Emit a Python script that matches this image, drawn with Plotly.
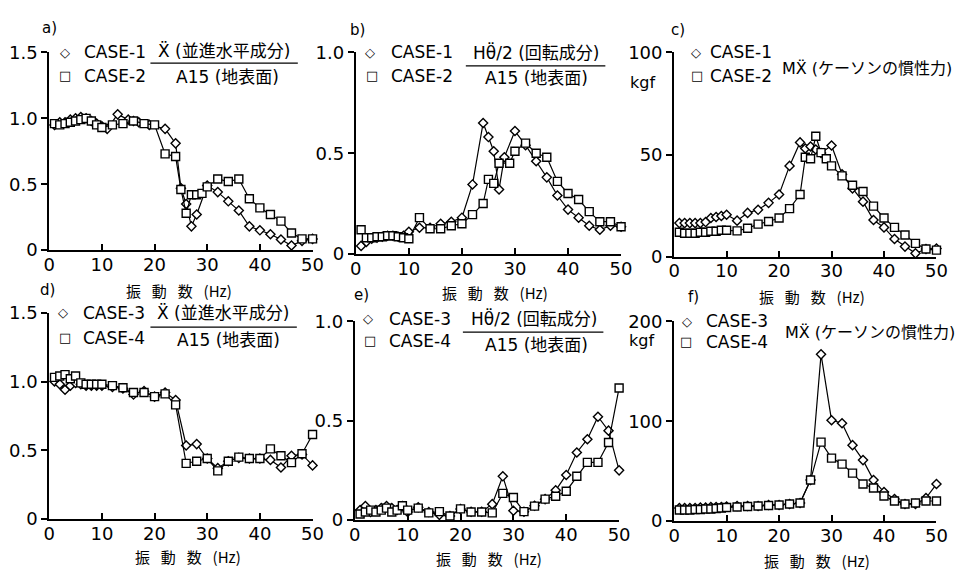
import plotly.graph_objects as go

# ---------------------------------------------------------------
# Frequency response of the caisson model (振動数 in Hz)
# ---------------------------------------------------------------

# a) translational horizontal acceleration / ground surface A15
freq_a_case1 = [1, 2, 3, 4, 5, 6, 7, 8, 9, 10, 11, 13, 15, 16, 17, 19, 22, 24, 25, 26, 27, 28,
                30, 32, 34, 36, 38, 40, 42, 44, 46, 48, 50]
ratio_a_case1 = [0.95, 0.97, 0.97, 0.99, 1.00, 1.01, 1.00, 0.98, 0.96, 0.94, 0.92, 1.03, 0.99, 0.98,
                 0.97, 0.95, 0.92, 0.81, 0.47, 0.35, 0.18, 0.27, 0.49, 0.44, 0.37, 0.30, 0.18, 0.15,
                 0.12, 0.08, 0.035, 0.07, 0.085]
freq_a_case2 = [1, 2, 3, 4, 5, 6, 7, 8, 9, 10, 12, 14, 16, 18, 20, 22, 24, 25, 26, 27, 28, 29,
                30, 32, 34, 36, 38, 40, 42, 44, 46, 48, 50]
ratio_a_case2 = [0.96, 0.95, 0.96, 0.97, 0.98, 0.99, 1.00, 0.98, 0.95, 0.93, 0.95, 0.96, 0.98, 0.96,
                 0.95, 0.73, 0.71, 0.46, 0.28, 0.42, 0.42, 0.43, 0.48, 0.54, 0.52, 0.54, 0.39, 0.32,
                 0.27, 0.22, 0.13, 0.085, 0.085]

# b) rotational component H*theta''/2 / A15
freq_b_case1 = [1, 2, 3, 4, 5, 6, 7, 8, 9, 10, 12, 14, 16, 18, 20, 22, 24, 25, 26, 27, 28, 30,
                32, 34, 36, 38, 40, 42, 44, 46, 48, 50]
ratio_b_case1 = [0.04, 0.06, 0.075, 0.08, 0.085, 0.09, 0.09, 0.085, 0.09, 0.11, 0.13, 0.13, 0.15,
                 0.16, 0.18, 0.345, 0.65, 0.58, 0.51, 0.32, 0.48, 0.61, 0.54, 0.46, 0.38, 0.29,
                 0.22, 0.18, 0.14, 0.12, 0.14, 0.135]
freq_b_case2 = [1, 2, 3, 4, 5, 6, 7, 8, 9, 10, 12, 14, 16, 18, 20, 22, 24, 25, 26, 27, 29, 30,
                32, 34, 36, 38, 40, 42, 44, 46, 48, 50]
ratio_b_case2 = [0.12, 0.08, 0.08, 0.085, 0.085, 0.09, 0.09, 0.085, 0.08, 0.075, 0.18, 0.125, 0.125,
                 0.14, 0.15, 0.195, 0.25, 0.37, 0.35, 0.45, 0.45, 0.51, 0.55, 0.50, 0.48, 0.36,
                 0.30, 0.27, 0.21, 0.16, 0.16, 0.135]

# c) inertia force of the caisson M*X'' (kgf)
freq_c_case1 = [1, 2, 3, 4, 5, 6, 7, 8, 9, 10, 12, 14, 16, 18, 20, 22, 24, 25, 26, 27, 28, 30,
                32, 34, 36, 38, 40, 42, 44, 46, 48, 50]
force_c_case1 = [16.5, 16.5, 16.5, 16.5, 16.5, 17, 19, 19.5, 20, 20.6, 17.7, 21.5, 23, 26.4, 30.5,
                 44.5, 56, 53, 54, 52.5, 50.8, 54.5, 40.4, 33.5, 27, 18, 14.4, 8.7, 5, 1.7, 3.8, 4.1]
freq_c_case2 = [1, 2, 3, 4, 5, 6, 7, 8, 9, 10, 12, 14, 16, 18, 20, 22, 24, 25, 26, 27, 28, 29,
                30, 32, 34, 36, 38, 40, 42, 44, 46, 48, 50]
force_c_case2 = [12, 11.5, 11.5, 11.5, 12, 12, 12.5, 12.5, 13, 13, 12.7, 14, 16, 17.3, 19, 23.6,
                 30.5, 48.7, 48, 59, 51, 48, 44.5, 39.6, 35, 32, 24.8, 19, 14.4, 10.7, 6.6, 3.8, 3.3]

# d) translational horizontal acceleration / A15, CASE-3 and CASE-4
freq_def = [1, 2, 3, 4, 5, 6, 7, 8, 9, 10, 12, 14, 16, 18, 20, 22, 24, 26, 28, 30, 32, 34, 36,
            38, 40, 42, 44, 46, 48, 50]
ratio_d_case3 = [1.00, 0.98, 0.94, 0.97, 0.99, 0.98, 0.97, 0.97, 0.97, 0.97, 0.96, 0.95, 0.905,
                 0.93, 0.89, 0.92, 0.865, 0.535, 0.545, 0.44, 0.37, 0.42, 0.445, 0.44, 0.44, 0.43,
                 0.375, 0.46, 0.47, 0.39]
ratio_d_case4 = [1.03, 1.04, 1.05, 1.02, 1.04, 0.99, 0.98, 0.98, 0.98, 0.98, 0.97, 0.955, 0.92,
                 0.92, 0.89, 0.91, 0.83, 0.405, 0.42, 0.44, 0.35, 0.42, 0.45, 0.44, 0.44, 0.51,
                 0.46, 0.41, 0.475, 0.615]

# e) rotational component / A15, CASE-3 and CASE-4
ratio_e_case3 = [0.05, 0.07, 0.04, 0.05, 0.06, 0.07, 0.06, 0.05, 0.07, 0.04, 0.064, 0.04, 0.026,
                 0.02, 0.055, 0.042, 0.042, 0.08, 0.22, 0.047, 0.042, 0.072, 0.105, 0.15, 0.227,
                 0.34, 0.407, 0.52, 0.45, 0.25]
ratio_e_case4 = [0.03, 0.04, 0.05, 0.04, 0.05, 0.06, 0.04, 0.05, 0.072, 0.05, 0.06, 0.036, 0.042,
                 0.02, 0.056, 0.04, 0.04, 0.036, 0.134, 0.113, 0.042, 0.07, 0.105, 0.12, 0.145,
                 0.22, 0.29, 0.29, 0.39, 0.665]

# f) inertia force of the caisson (kgf), CASE-3 and CASE-4
force_f_case3 = [13, 13, 13, 13, 13.5, 13.5, 14, 14, 14, 14.5, 15, 15, 15, 16, 16, 17, 18, 41, 167,
                 101, 98, 76, 61, 41, 29, 22, 17, 17, 23, 37]
force_f_case4 = [11, 11, 11, 11.5, 11.5, 12, 12, 12.5, 13, 13.5, 14, 14.5, 15, 15.5, 16, 17, 18,
                 41, 79, 63, 57, 48, 37, 33, 25, 20, 17, 18, 20, 20]

x_ticks = [0, 10, 20, 30, 40, 50]
x_title = "振\u2002 動\u2002 数\u2002 (Hz)"
ratio15_ticks, ratio15_text = [0, 0.5, 1.0, 1.5], ["0", "0.5", "1.0", "1.5"]
ratio10_ticks, ratio10_text = [0, 0.5, 1.0], ["0", "0.5", "1.0"]
force100_ticks, force100_text = [0, 50, 100], ["0", "50", "100"]
force200_ticks, force200_text = [0, 100, 200], ["0", "100", "200"]

TRANS = ("Ẍ (並進水平成分)", "A15 (地表面)")
ROT = ("Hθ̈/2 (回転成分)", "A15 (地表面)")
INERTIA = "MẌ (ケーソンの慣性力)"

# ---------------------------------------------------------------
W, H = 974, 584
LAT = "DejaVu Sans, Noto Sans CJK JP"
CJK = "Noto Sans CJK JP, DejaVu Sans"


def px(x):
    return x / W


def py(y):
    return 1 - y / H


panels = [
    dict(tag="a)", cols=(44, 312), rows=(248, 43), yr=1.5, yt=(ratio15_ticks, ratio15_text),
         series=[(freq_a_case1, ratio_a_case1, "diamond"), (freq_a_case2, ratio_a_case2, "square")],
         cases=("CASE-1", "CASE-2"), label=(35, 18), title=(176, 290),
         leg=dict(d=(60, 43), s=(60, 67), tx=77), frac=TRANS, fnum=(222, 42), fline=(147, 297, 54),
         fden=(225, 68)),
    dict(tag="b)", cols=(356, 626), rows=(252, 43), yr=1.0, yt=(ratio10_ticks, ratio10_text),
         series=[(freq_b_case1, ratio_b_case1, "diamond"), (freq_b_case2, ratio_b_case2, "square")],
         cases=("CASE-1", "CASE-2"), label=(348, 20), title=(498, 292),
         leg=dict(d=(370, 43), s=(372, 67), tx=390), frac=ROT, fnum=(539, 43),
         fline=(468, 610, 57), fden=(540, 69)),
    dict(tag="c)", cols=(680, 947), rows=(255, 43), yr=100, yt=(force100_ticks, force100_text),
         series=[(freq_c_case1, force_c_case1, "diamond"), (freq_c_case2, force_c_case2, "square")],
         cases=("CASE-1", "CASE-2"), label=(675, 20), title=(820, 296),
         leg=dict(d=(702, 43), s=(703, 67), tx=714), inertia=(788, 60), kgf=(663, 74)),
    dict(tag="d)", cols=(44, 312), rows=(527, 313), yr=1.5, yt=(ratio15_ticks, ratio15_text),
         series=[(freq_def, ratio_d_case3, "diamond"), (freq_def, ratio_d_case4, "square")],
         cases=("CASE-3", "CASE-4"), label=(33, 289), title=(185, 566),
         leg=dict(d=(58, 313), s=(60, 339), tx=76), frac=TRANS, fnum=(221, 313),
         fline=(147, 296, 328), fden=(226, 341)),
    dict(tag="e)", cols=(355, 624), rows=(528, 322), yr=1.0, yt=(ratio10_ticks, ratio10_text),
         series=[(freq_def, ratio_e_case3, "diamond"), (freq_def, ratio_e_case4, "square")],
         cases=("CASE-3", "CASE-4"), label=(352, 295), title=(492, 568),
         leg=dict(d=(368, 319), s=(370, 342), tx=388), frac=ROT, fnum=(537, 319),
         fline=(465, 608, 333), fden=(540, 346)),
    dict(tag="f)", cols=(680, 947), rows=(529, 322), yr=200, yt=(force200_ticks, force200_text),
         series=[(freq_def, force_f_case3, "diamond"), (freq_def, force_f_case4, "square")],
         cases=("CASE-3", "CASE-4"), label=(692, 297), title=(825, 570),
         leg=dict(d=(693, 322), s=(692, 343), tx=710), inertia=(791, 334), kgf=(662, 342)),
]

fig = go.Figure()
annotations = []
shapes = []
layout = {}

for i, p in enumerate(panels, start=1):
    sx = "" if i == 1 else str(i)
    xa, ya = "x" + sx, "y" + sx
    for xs, ys, sym in p["series"]:
        fig.add_trace(go.Scatter(
            x=xs, y=ys, xaxis=xa, yaxis=ya, mode="lines+markers",
            line=dict(color="black", width=1.2),
            marker=dict(symbol=sym, size=7 if sym == "diamond" else 8, color="white",
                        line=dict(color="black", width=1.4)),
            cliponaxis=False, showlegend=False))

    layout["xaxis" + sx] = dict(
        domain=[px(p["cols"][0]), px(p["cols"][1])], anchor=ya, range=[0, 50],
        tickvals=x_ticks, ticks="inside", ticklen=6, tickwidth=1.5, tickcolor="black",
        ticklabelstandoff=-3,
        showline=True, linecolor="black", linewidth=2, showgrid=False, zeroline=False,
        tickfont=dict(family=LAT, size=18, color="black"))
    layout["yaxis" + sx] = dict(
        domain=[py(p["rows"][0]), py(p["rows"][1])], anchor=xa, range=[0, p["yr"]],
        tickvals=p["yt"][0], ticktext=p["yt"][1], ticks="outside", ticklen=6, tickwidth=1.5,
        tickcolor="black", showline=True, linecolor="black", linewidth=2, showgrid=False,
        zeroline=False, tickfont=dict(family=LAT, size=18, color="black"))

    # panel tag and axis title
    annotations.append(dict(text=p["tag"], x=px(p["label"][0]), y=py(p["label"][1]),
                            xref="paper", yref="paper", xanchor="left", yanchor="middle",
                            showarrow=False, font=dict(family=LAT, size=15, color="black")))
    annotations.append(dict(text=x_title, x=px(p["title"][0]), y=py(p["title"][1]),
                            xref="paper", yref="paper", xanchor="center", yanchor="middle",
                            showarrow=False, font=dict(family=CJK, size=15, color="black")))

    # case key: symbol glyph + case name
    lg = p["leg"]
    for glyph, pos, name in (("◇", lg["d"], p["cases"][0]), ("□", lg["s"], p["cases"][1])):
        annotations.append(dict(text=glyph, x=px(pos[0]), y=py(pos[1]), xref="paper",
                                yref="paper", xanchor="center", yanchor="middle",
                                showarrow=False, font=dict(family=LAT, size=13, color="black")))
        annotations.append(dict(text=name, x=px(lg["tx"]), y=py(pos[1]), xref="paper",
                                yref="paper", xanchor="left", yanchor="middle",
                                showarrow=False, font=dict(family=LAT, size=17, color="black")))

    if "frac" in p:
        num, den = p["frac"]
        annotations.append(dict(text=num, x=px(p["fnum"][0]), y=py(p["fnum"][1]),
                                xref="paper", yref="paper", xanchor="center", yanchor="middle",
                                showarrow=False, font=dict(family=LAT, size=17, color="black")))
        annotations.append(dict(text=den, x=px(p["fden"][0]), y=py(p["fden"][1]),
                                xref="paper", yref="paper", xanchor="center", yanchor="middle",
                                showarrow=False, font=dict(family=LAT, size=17, color="black")))
        x0, x1, yl = p["fline"]
        shapes.append(dict(type="line", xref="paper", yref="paper", x0=px(x0), x1=px(x1),
                           y0=py(yl), y1=py(yl), line=dict(color="black", width=1.3)))
    else:
        annotations.append(dict(text=INERTIA, x=px(p["inertia"][0]), y=py(p["inertia"][1]),
                                xref="paper", yref="paper", xanchor="left", yanchor="middle",
                                showarrow=False, font=dict(family=LAT, size=16, color="black")))
        annotations.append(dict(text="kgf", x=px(p["kgf"][0]), y=py(p["kgf"][1]),
                                xref="paper", yref="paper", xanchor="right", yanchor="middle",
                                showarrow=False, font=dict(family=LAT, size=16, color="black")))

fig.update_layout(
    width=W, height=H, margin=dict(l=0, r=0, t=0, b=0),
    paper_bgcolor="white", plot_bgcolor="white",
    annotations=annotations, shapes=shapes, showlegend=False, **layout)

fig.write_html("out.html")
